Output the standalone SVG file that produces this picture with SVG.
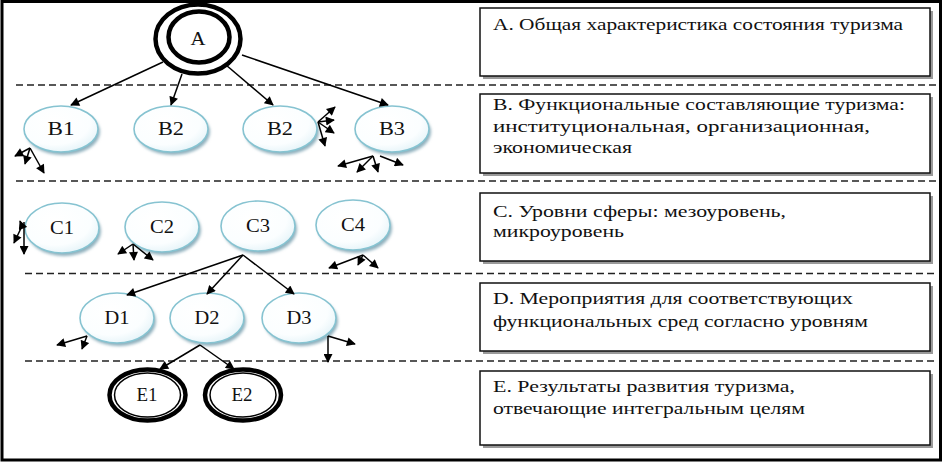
<svg xmlns="http://www.w3.org/2000/svg" width="943" height="462" viewBox="0 0 943 462">
<style>
.lbl{font-family:'Liberation Serif','DejaVu Serif',serif;font-size:19px;fill:#111;text-anchor:middle}
.bt{font-family:'Liberation Serif','DejaVu Serif',serif;font-size:16.5px;fill:#111}
.dash{stroke:#222;stroke-width:1.5;stroke-dasharray:7 4;fill:none}
.box{fill:#fff;stroke:#111;stroke-width:1.5}
.boxsh{fill:#9a9a9a}
.nd{fill:url(#ng);stroke:#86c3d1;stroke-width:1.6}
.nsh{fill:#8fb0bd;filter:url(#bl)}
.ring{fill:#fff;stroke:#000;stroke-width:4.5}
.con line{stroke:#000;stroke-width:1.5;marker-end:url(#ah)}
</style>
<defs>
<radialGradient id="ng" cx="0.4" cy="0.35" r="0.7">
<stop offset="0" stop-color="#ffffff"/>
<stop offset="0.7" stop-color="#fbfeff"/>
<stop offset="1" stop-color="#e4f3f8"/>
</radialGradient>
<filter id="bl" x="-20%" y="-20%" width="140%" height="140%"><feGaussianBlur stdDeviation="1.5"/></filter>
<marker id="ah" viewBox="0 0 10 10" refX="9" refY="5" markerWidth="10" markerHeight="9" markerUnits="userSpaceOnUse" orient="auto">
<path d="M0,0 L10,5 L0,10 z" fill="#000"/>
</marker>
</defs>
<rect x="0" y="0" width="943" height="462" fill="#fff"/>
<rect x="2" y="1.5" width="938.5" height="458.5" fill="none" stroke="#000" stroke-width="3"/>

<g id="separators">
<line class="dash" x1="16" y1="85" x2="938" y2="85"/>
<line class="dash" x1="16" y1="181" x2="938" y2="181"/>
<line class="dash" x1="25" y1="273.5" x2="938" y2="273.5"/>
<line class="dash" x1="25" y1="361" x2="938" y2="361"/>
</g>

<g id="box-A">
<rect class="boxsh" x="483" y="11" width="450" height="68"/>
<rect class="box" x="480" y="8" width="450" height="68"/>
<text class="bt" x="493" y="30" textLength="410" lengthAdjust="spacingAndGlyphs">А. Общая характеристика состояния туризма</text>
</g>
<g id="box-B">
<rect class="boxsh" x="483" y="97" width="450" height="79"/>
<rect class="box" x="480" y="94" width="450" height="79"/>
<text class="bt" x="493" y="110" textLength="412" lengthAdjust="spacingAndGlyphs">В. Функциональные составляющие туризма:</text>
<text class="bt" x="493" y="132" textLength="377" lengthAdjust="spacingAndGlyphs">институциональная, организационная,</text>
<text class="bt" x="493" y="153" textLength="139" lengthAdjust="spacingAndGlyphs">экономическая</text>
</g>
<g id="box-C">
<rect class="boxsh" x="483" y="196" width="450" height="68"/>
<rect class="box" x="480" y="193" width="450" height="68"/>
<text class="bt" x="493" y="217" textLength="293" lengthAdjust="spacingAndGlyphs">С. Уровни сферы: мезоуровень,</text>
<text class="bt" x="493" y="237" textLength="131" lengthAdjust="spacingAndGlyphs">микроуровень</text>
</g>
<g id="box-D">
<rect class="boxsh" x="483" y="286" width="450" height="68"/>
<rect class="box" x="480" y="283" width="450" height="68"/>
<text class="bt" x="493" y="304" textLength="360" lengthAdjust="spacingAndGlyphs">D. Мероприятия для соответствующих</text>
<text class="bt" x="493" y="327" textLength="375" lengthAdjust="spacingAndGlyphs">функциональных сред согласно уровням</text>
</g>
<g id="box-E">
<rect class="boxsh" x="483" y="374" width="450" height="74"/>
<rect class="box" x="480" y="371" width="450" height="74"/>
<text class="bt" x="493" y="392" textLength="302" lengthAdjust="spacingAndGlyphs">Е. Результаты развития туризма,</text>
<text class="bt" x="493" y="414" textLength="312" lengthAdjust="spacingAndGlyphs">отвечающие интегральным целям</text>
</g>

<g id="node-A">
<ellipse class="ring" cx="198" cy="39" rx="42.5" ry="34.5"/>
<ellipse class="ring" cx="199" cy="37" rx="30.5" ry="25.5"/>
<text class="lbl" x="198" y="45" textLength="15" lengthAdjust="spacingAndGlyphs">A</text>
</g>

<g id="node-B1">
<ellipse class="nsh" cx="63" cy="132" rx="37" ry="23"/>
<ellipse class="nd" cx="61" cy="129" rx="37" ry="23"/>
<text class="lbl" x="61" y="135" textLength="27" lengthAdjust="spacingAndGlyphs">B1</text>
</g>
<g id="node-B2a">
<ellipse class="nsh" cx="173" cy="132" rx="37" ry="23"/>
<ellipse class="nd" cx="171" cy="129" rx="37" ry="23"/>
<text class="lbl" x="171" y="135" textLength="26" lengthAdjust="spacingAndGlyphs">B2</text>
</g>
<g id="node-B2b">
<ellipse class="nsh" cx="282" cy="132" rx="37" ry="23"/>
<ellipse class="nd" cx="280" cy="129" rx="37" ry="23"/>
<text class="lbl" x="280" y="135" textLength="26" lengthAdjust="spacingAndGlyphs">B2</text>
</g>
<g id="node-B3">
<ellipse class="nsh" cx="394" cy="132" rx="37" ry="23"/>
<ellipse class="nd" cx="392" cy="129" rx="37" ry="23"/>
<text class="lbl" x="392" y="135" textLength="26" lengthAdjust="spacingAndGlyphs">B3</text>
</g>

<g id="node-C1">
<ellipse class="nsh" cx="64" cy="231" rx="37" ry="25"/>
<ellipse class="nd" cx="62" cy="228" rx="37" ry="25"/>
<text class="lbl" x="62" y="234" textLength="24" lengthAdjust="spacingAndGlyphs">C1</text>
</g>
<g id="node-C2">
<ellipse class="nsh" cx="164" cy="230" rx="37" ry="25"/>
<ellipse class="nd" cx="162" cy="227" rx="37" ry="25"/>
<text class="lbl" x="162" y="233" textLength="24" lengthAdjust="spacingAndGlyphs">C2</text>
</g>
<g id="node-C3">
<ellipse class="nsh" cx="260" cy="229" rx="37" ry="25"/>
<ellipse class="nd" cx="258" cy="226" rx="37" ry="25"/>
<text class="lbl" x="258" y="232" textLength="24" lengthAdjust="spacingAndGlyphs">C3</text>
</g>
<g id="node-C4">
<ellipse class="nsh" cx="355" cy="228" rx="37" ry="25"/>
<ellipse class="nd" cx="353" cy="225" rx="37" ry="25"/>
<text class="lbl" x="353" y="231" textLength="24" lengthAdjust="spacingAndGlyphs">C4</text>
</g>

<g id="node-D1">
<ellipse class="nsh" cx="119" cy="321" rx="37" ry="25"/>
<ellipse class="nd" cx="117" cy="318" rx="37" ry="25"/>
<text class="lbl" x="117" y="324" textLength="25" lengthAdjust="spacingAndGlyphs">D1</text>
</g>
<g id="node-D2">
<ellipse class="nsh" cx="209" cy="321" rx="37" ry="25"/>
<ellipse class="nd" cx="207" cy="318" rx="37" ry="25"/>
<text class="lbl" x="207" y="324" textLength="25" lengthAdjust="spacingAndGlyphs">D2</text>
</g>
<g id="node-D3">
<ellipse class="nsh" cx="301" cy="321" rx="37" ry="25"/>
<ellipse class="nd" cx="299" cy="318" rx="37" ry="25"/>
<text class="lbl" x="299" y="324" textLength="25" lengthAdjust="spacingAndGlyphs">D3</text>
</g>

<g id="node-E1">
<ellipse class="ring" cx="147.5" cy="395" rx="38" ry="25.5"/>
<ellipse cx="147.5" cy="395" rx="33" ry="22" fill="none" stroke="#000" stroke-width="1.5"/>
<text class="lbl" x="147" y="401" textLength="21" lengthAdjust="spacingAndGlyphs">E1</text>
</g>
<g id="node-E2">
<ellipse class="ring" cx="243" cy="395" rx="38" ry="25.5"/>
<ellipse cx="243" cy="395" rx="33" ry="22" fill="none" stroke="#000" stroke-width="1.5"/>
<text class="lbl" x="242" y="401" textLength="21" lengthAdjust="spacingAndGlyphs">E2</text>
</g>

<g id="connectors" class="con">
<line x1="163" y1="62" x2="71" y2="105"/>
<line x1="182" y1="74" x2="171" y2="105"/>
<line x1="226" y1="65" x2="273" y2="105"/>
<line x1="242" y1="55" x2="388" y2="105"/>
<line x1="30" y1="148" x2="15" y2="156"/>
<line x1="30" y1="148" x2="25" y2="164"/>
<line x1="30" y1="148" x2="44" y2="173"/>
<line x1="318" y1="122" x2="335" y2="107"/>
<line x1="318" y1="122" x2="334" y2="120"/>
<line x1="318" y1="122" x2="334" y2="133"/>
<line x1="318" y1="122" x2="325" y2="146"/>
<line x1="373" y1="156" x2="338" y2="166"/>
<line x1="373" y1="156" x2="357" y2="172"/>
<line x1="373" y1="156" x2="378" y2="172"/>
<line x1="380" y1="156" x2="403" y2="165"/>
<line x1="22" y1="226" x2="20" y2="221"/>
<line x1="22" y1="226" x2="14" y2="243"/>
<line x1="24" y1="222" x2="24" y2="254"/>
<line x1="133" y1="244" x2="118" y2="254"/>
<line x1="133" y1="244" x2="134" y2="260"/>
<line x1="133" y1="244" x2="153" y2="260"/>
<line x1="363" y1="255" x2="329" y2="268"/>
<line x1="363" y1="255" x2="358" y2="265"/>
<line x1="363" y1="255" x2="378" y2="268"/>
<line x1="243" y1="255" x2="127" y2="295"/>
<line x1="243" y1="255" x2="207" y2="294"/>
<line x1="243" y1="255" x2="294" y2="294"/>
<line x1="87" y1="336" x2="57" y2="345"/>
<line x1="87" y1="336" x2="82" y2="349"/>
<line x1="328" y1="336" x2="355" y2="344"/>
<line x1="328" y1="336" x2="328" y2="362"/>
<line x1="200" y1="345" x2="160" y2="369"/>
<line x1="200" y1="345" x2="234" y2="369"/>
</g>
</svg>
